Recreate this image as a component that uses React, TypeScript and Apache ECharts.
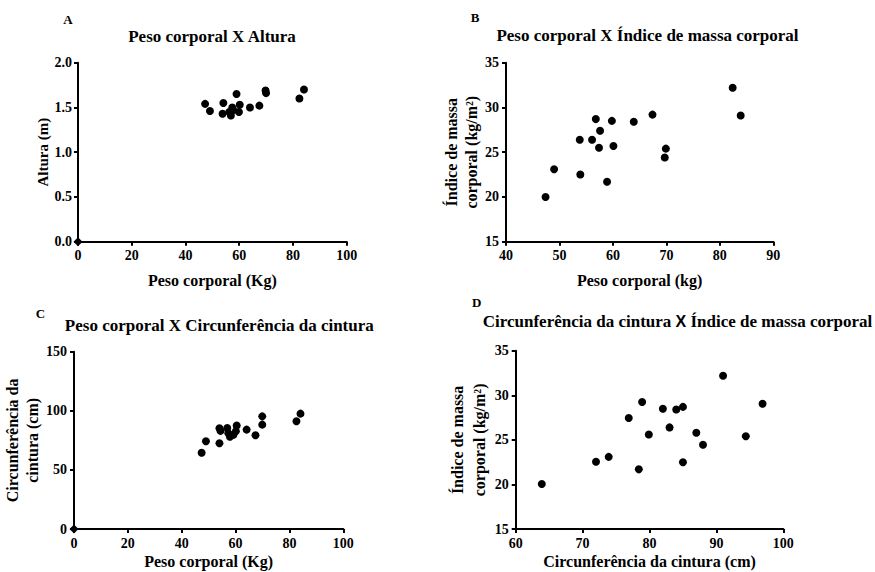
import React, { useEffect, useRef } from "react";
import * as echarts from "echarts";

// Panel A: Peso corporal (Kg) x Altura (m)
const pesoA = [47.3, 49.1, 54.1, 53.8, 56.3, 56.9, 57.4, 57.8, 59.0, 59.9, 60.2, 64.0, 67.5, 69.8, 70.0, 82.4, 84.1];
const alturaA = [1.54, 1.46, 1.55, 1.43, 1.45, 1.41, 1.50, 1.47, 1.65, 1.45, 1.53, 1.50, 1.52, 1.69, 1.66, 1.60, 1.70];
const origemA = [0, 0];

// Panel B: Peso corporal (kg) x IMC
const pesoB = [47.4, 49.0, 53.8, 53.9, 56.1, 56.8, 57.6, 57.4, 58.9, 59.8, 60.1, 63.9, 67.4, 69.7, 69.9, 82.4, 83.9];
const imcB = [20.0, 23.1, 26.4, 22.5, 26.4, 28.7, 27.4, 25.5, 21.7, 28.5, 25.7, 28.4, 29.2, 24.4, 25.4, 32.2, 29.1];

// Panel C: Peso corporal (Kg) x Circunferência da cintura (cm)
const pesoC = [47.4, 49.0, 54.0, 54.0, 54.4, 56.9, 57.3, 57.9, 59.2, 60.4, 60.1, 64.1, 67.4, 69.9, 69.9, 82.6, 84.1];
const cinturaC = [64.5, 74.3, 72.5, 85.3, 83.0, 85.5, 81.0, 78.0, 79.8, 87.5, 82.7, 84.1, 79.3, 88.3, 95.3, 91.1, 97.6];
const origemC = [0, 0];

// Panel D: Circunferência da cintura (cm) x IMC
const cinturaD = [63.9, 72.0, 73.9, 76.9, 78.4, 78.9, 79.9, 82.0, 83.0, 84.0, 85.0, 85.0, 87.0, 88.0, 91.0, 94.4, 96.9];
const imcD = [20.05, 22.55, 23.1, 27.45, 21.7, 29.25, 25.6, 28.5, 26.4, 28.4, 28.7, 22.5, 25.8, 24.45, 32.2, 25.4, 29.05];

const FONT = "'Liberation Serif', 'Times New Roman', serif";
const SANS = "'Liberation Sans', Arial, sans-serif";

const pairs = (xs: number[], ys: number[]) => xs.map((x, i) => [x, ys[i]]);

export default function App() {
  const ref = useRef<HTMLDivElement>(null);

  useEffect(() => {
    const chart = echarts.init(ref.current!, null, { renderer: "svg" });

    const axisBase = (extra: any) => ({
      type: "value",
      axisLine: { show: true, onZero: false, lineStyle: { color: "#000", width: 2 } },
      axisTick: { show: true, length: 4, lineStyle: { color: "#000", width: 2 } },
      axisLabel: { color: "#000", fontFamily: FONT, fontWeight: "bold", fontSize: 14, margin: 7 },
      splitLine: { show: false },
      nameLocation: "middle",
      nameTextStyle: { color: "#000", fontFamily: FONT, fontWeight: "bold", fontSize: 16, lineHeight: 20 },
      ...extra,
    });

    const scatter = (idx: number, data: number[][], size = 8, symbol = "circle") => ({
      type: "scatter",
      xAxisIndex: idx,
      yAxisIndex: idx,
      data,
      symbol,
      symbolSize: size,
      itemStyle: { color: "#000", opacity: 1 },
      clip: false,
    });

    const txt = (text: string, x: number, y: number, size: number, rich?: any) => ({
      type: "text",
      x,
      y,
      style: {
        text,
        fill: "#000",
        font: `bold ${size}px ${FONT}`,
        textAlign: "center",
        textVerticalAlign: "middle",
        ...(rich ? { rich } : {}),
      },
    });

    chart.setOption({
      animation: false,
      backgroundColor: "#fff",
      grid: [
        { left: 78, top: 62.7, width: 268.7, height: 179 },
        { left: 506, top: 62.7, width: 267.3, height: 179 },
        { left: 74, top: 351.7, width: 269.3, height: 178.3 },
        { left: 515.7, top: 350.7, width: 267.6, height: 179.3 },
      ],
      xAxis: [
        axisBase({ gridIndex: 0, min: 0, max: 100, interval: 20, name: "Peso corporal (Kg)", nameGap: 29 }),
        axisBase({ gridIndex: 1, min: 40, max: 90, interval: 10, name: "Peso corporal (kg)", nameGap: 29 }),
        axisBase({ gridIndex: 2, min: 0, max: 100, interval: 20, name: "Peso corporal (Kg)", nameGap: 22 }),
        axisBase({ gridIndex: 3, min: 60, max: 100, interval: 10, name: "Circunferência da cintura (cm)", nameGap: 21 }),
      ],
      yAxis: [
        axisBase({
          gridIndex: 0, min: 0, max: 2, interval: 0.5, name: "Altura (m)", nameGap: 28,
          nameTextStyle: { color: "#000", fontFamily: FONT, fontWeight: "bold", fontSize: 15 },
          axisLabel: { color: "#000", fontFamily: FONT, fontWeight: "bold", fontSize: 14, margin: 6, formatter: (v: number) => v.toFixed(1) },
        }),
        axisBase({ gridIndex: 1, min: 15, max: 35, interval: 5, name: "Índice de massa\ncorporal (kg/m²)", nameGap: 24 }),
        axisBase({ gridIndex: 2, min: 0, max: 150, interval: 50, name: "Circunferência da\ncintura (cm)", nameGap: 27 }),
        axisBase({ gridIndex: 3, min: 15, max: 35, interval: 5, name: "Índice de massa\ncorporal (kg/m²)", nameGap: 23, nameTextStyle: { color: "#000", fontFamily: FONT, fontWeight: "bold", fontSize: 16, lineHeight: 22 } }),
      ],
      series: [
        scatter(0, pairs(pesoA, alturaA), 8),
        scatter(0, [origemA], 9, "diamond"),
        scatter(1, pairs(pesoB, imcB), 8),
        scatter(2, pairs(pesoC, cinturaC), 8),
        scatter(2, [origemC], 9, "diamond"),
        scatter(3, pairs(cinturaD, imcD), 8),
      ],
      graphic: [
        txt("A", 68, 19, 13),
        txt("Peso corporal X Altura", 212, 36.5, 17),
        txt("B", 475, 17.5, 13),
        txt("Peso corporal X Índice de massa corporal", 647.5, 35, 17),
        txt("C", 40.5, 313, 13),
        txt("Peso corporal X Circunferência da cintura", 219.3, 325.5, 17),
        txt("D", 476.7, 302.5, 13),
        txt("{s|Circunferência da cintura }{x|X}{s| Índice de massa corporal}", 677.5, 321.5, 17, {
          s: { font: `bold 17px ${FONT}`, fill: "#000" },
          x: { font: `bold 16px ${SANS}`, fill: "#000" },
        }),
      ],
    });

    return () => chart.dispose();
  }, []);

  return (
    <div
      ref={ref}
      style={{ position: "absolute", left: 0, top: 0, width: 875, height: 572, background: "#fff" }}
    />
  );
}
